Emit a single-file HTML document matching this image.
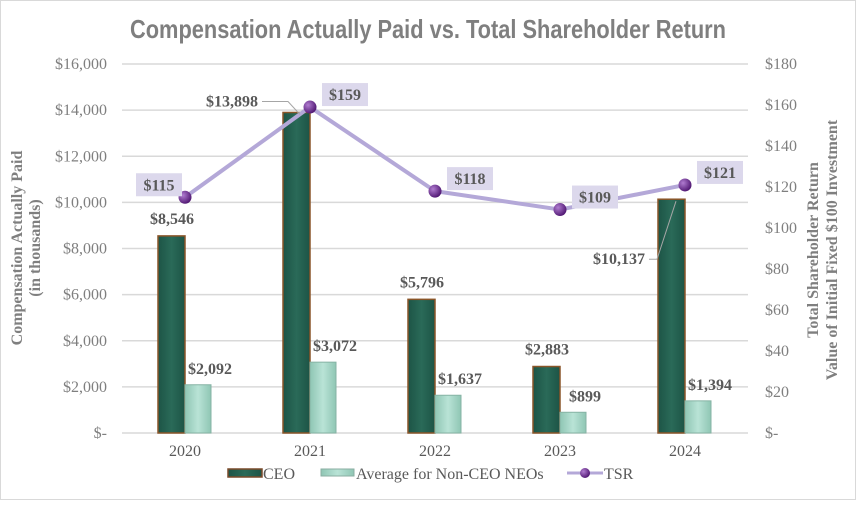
<!DOCTYPE html>
<html><head><meta charset="utf-8"><style>
body{margin:0;background:#fff}
svg text{font-family:"Liberation Serif",serif}
</style></head><body>
<svg id="c" width="856" height="500" viewBox="0 0 856 500">
<defs>
<linearGradient id="gc" x1="0" x2="1"><stop offset="0" stop-color="#1d5446"/><stop offset="0.5" stop-color="#2a6a58"/><stop offset="1" stop-color="#1d5446"/></linearGradient>
<linearGradient id="gn" x1="0" x2="1"><stop offset="0" stop-color="#8fc6b4"/><stop offset="0.5" stop-color="#b9e3d6"/><stop offset="1" stop-color="#8fc6b4"/></linearGradient>
<radialGradient id="gd" cx="0.35" cy="0.35" r="0.7"><stop offset="0" stop-color="#b07cd0"/><stop offset="1" stop-color="#4e1570"/></radialGradient>
</defs>
<rect x="0.5" y="0.5" width="855" height="499" fill="#fff" stroke="#d9d9d9"/>
<text x="130" y="38" textLength="596" lengthAdjust="spacingAndGlyphs" font-size="26" font-weight="bold" fill="#7f7f7f" style="font-family:'Liberation Sans',sans-serif">Compensation Actually Paid vs. Total Shareholder Return</text>
<g id="grid"></g><g id="bars"></g><g id="line"></g><g id="labels"></g>
<text transform="translate(22,248) rotate(-90)" text-anchor="middle" font-size="16" font-weight="bold" fill="#7f7f7f">Compensation Actually Paid</text>
<text transform="translate(40,248) rotate(-90)" text-anchor="middle" font-size="16" font-weight="bold" fill="#7f7f7f">(in thousands)</text>
<text transform="translate(818,250) rotate(-90)" text-anchor="middle" font-size="16" font-weight="bold" fill="#7f7f7f">Total Shareholder Return</text>
<text transform="translate(837,250) rotate(-90)" text-anchor="middle" font-size="16" font-weight="bold" fill="#7f7f7f">Value of Initial Fixed $100 Investment</text>
<g>
<rect x="228" y="469" width="34" height="8" fill="url(#gc)" stroke="#7a4a2a" stroke-width="1.5"/>
<text x="263" y="479" font-size="16" fill="#595959">CEO</text>
<rect x="321" y="469" width="33" height="7" fill="url(#gn)" stroke="#8aaea2"/>
<text x="356" y="479" font-size="16" fill="#595959">Average for Non-CEO NEOs</text>
<line x1="567" y1="473" x2="603" y2="473" stroke="#b4a8d8" stroke-width="3"/>
<circle cx="585" cy="473" r="5" fill="url(#gd)"/>
<text x="604" y="479" font-size="16" fill="#595959">TSR</text>
</g>
</svg>
<script>
const categories=["2020","2021","2022","2023","2024"];
const ceoValues=[8546,13898,5796,2883,10137];
const neoValues=[2092,3072,1637,899,1394];
const tsrValues=[115,159,118,109,121];
const leftTicks=["$-","$2,000","$4,000","$6,000","$8,000","$10,000","$12,000","$14,000","$16,000"];
const rightTicks=["$-","$20","$40","$60","$80","$100","$120","$140","$160","$180"];
const NS="http://www.w3.org/2000/svg";
const X0=122,X1=748,Y0=433,Y1=64;
const xC=i=>185+i*125;
const yL=v=>Y0-(v/16000)*(Y0-Y1);
const yR=v=>Y0-(v/180)*(Y0-Y1);
function mk(tag,attrs,parent,txt){const e=document.createElementNS(NS,tag);for(const k in attrs)e.setAttribute(k,attrs[k]);if(txt!==undefined)e.textContent=txt;document.getElementById(parent)?document.getElementById(parent).appendChild(e):parent.appendChild(e);return e;}
const fmt=v=>"$"+v.toLocaleString("en-US");
leftTicks.forEach((t,i)=>{const y=yL(i*2000);
 const l=mk("line",{x1:X0,x2:X1,y1:y,y2:y,stroke:"#d9d9d9","stroke-width":1.5},"grid");
 
 
 const tx=mk("text",{x:107,y:y+5,"text-anchor":"end","font-size":16,fill:"#7f7f7f"},"grid",t);
 
 
});
rightTicks.forEach((t,i)=>{const y=yR(i*20);
 const tx=mk("text",{x:765,y:y+5,"font-size":16,fill:"#7f7f7f"},"grid",t);
 
 
});
categories.forEach((c,i)=>{
 const tx=mk("text",{x:xC(i),y:456,"text-anchor":"middle","font-size":16,fill:"#595959"},"grid",c);
 
 
 const cy=yL(ceoValues[i]);
 const b=mk("rect",{x:xC(i)-27,y:cy,width:27,height:Y0-cy,fill:"url(#gc)",stroke:"#8a5528","stroke-width":1.5},"bars");
 
 
 const ny=yL(neoValues[i]);
 const n=mk("rect",{x:xC(i),y:ny,width:26,height:Y0-ny,fill:"url(#gn)",stroke:"#86b3a4","stroke-width":1},"bars");
 
 
 let lx=xC(i)-13,ly=cy-12,anchor="middle";
 if(i===1){lx=xC(i)-52;ly=cy-6;anchor="end";
  const ll=mk("polyline",{points:`${lx+4},${ly-5} ${lx+30},${ly-5} ${xC(i)-10},${cy+2}`,fill:"none",stroke:"#a6a6a6"},"labels");
  
  }
 if(i===4){lx=xC(i)-40;ly=yL(ceoValues[i])+65;anchor="end";
  const ll=mk("polyline",{points:`${lx+4},${ly-5} ${lx+12},${ly-5} ${xC(i)-9},${cy+2}`,fill:"none",stroke:"#a6a6a6"},"labels");
  
  }
 const cl=mk("text",{x:lx,y:ly,"text-anchor":anchor,"font-size":16,"font-weight":"bold",fill:"#595959"},"labels",fmt(ceoValues[i]));
 
 
 const nl=mk("text",{x:xC(i)+25,y:ny-11,"text-anchor":"middle","font-size":16,"font-weight":"bold",fill:"#595959"},"labels",fmt(neoValues[i]));
 
 
});
const pts=tsrValues.map((v,i)=>xC(i)+","+yR(v)).join(" ");
const pl=mk("polyline",{points:pts,fill:"none",stroke:"#b4a8d8","stroke-width":4,"stroke-linejoin":"round"},"line");


tsrValues.forEach((v,i)=>{
 const cx=xC(i),cy=yR(v);
 const d=mk("circle",{cx:cx,cy:cy,r:6.5,fill:"url(#gd)"},"line");
 
 
 const bx=i===0?cx-49:cx+12, by=cy-24;
 const r=mk("rect",{x:bx,y:by,width:46,height:23,fill:"#dcd8ec"},"labels");
 
 
 const t=mk("text",{x:bx+23,y:by+17,"text-anchor":"middle","font-size":16,"font-weight":"bold",fill:"#595959"},"labels","$"+v);
 
 
});
</script>
</body></html>
